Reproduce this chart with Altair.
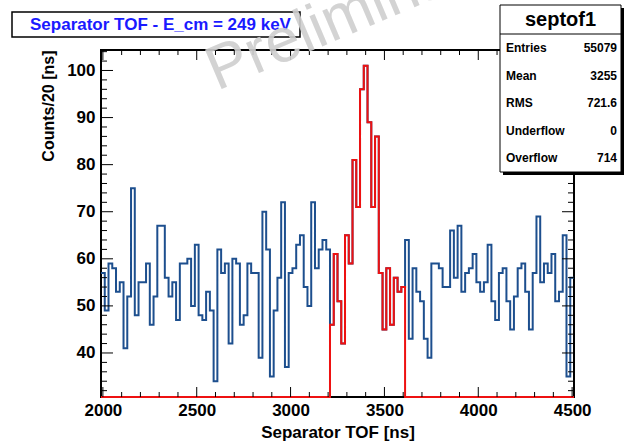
import altair as alt
import pandas as pd

# ---------------- data ----------------
BIN_START = 1990
BIN_WIDTH = 20
GATE_LO, GATE_HI = 3210, 3610

counts_before = [57, 49, 59, 58, 53, 55, 41, 52, 75, 48, 55, 55, 59, 46, 52, 67, 67, 56, 52, 55,
                 47, 59, 59, 60, 50, 63, 48, 47, 53, 49, 34, 62, 57, 59, 42, 60, 59, 46, 48, 59,
                 57, 57, 39, 70, 62, 35, 49, 56, 72, 37, 57, 58, 63, 65, 54, 50, 72, 58, 62, 64, 62]
counts_gate = [46, 61, 51, 42, 65, 59, 81, 71, 96, 101, 89, 71, 86, 57, 45, 58, 46, 56, 53, 54]
counts_after = [64, 43, 58, 53, 51, 43, 39, 59, 59, 58, 54, 54, 66, 56, 67, 53, 57, 58, 61, 55,
                53, 55, 63, 51, 47, 57, 58, 51, 45, 52, 58, 59, 53, 45, 57, 69, 55, 59, 57, 61,
                51, 53, 65, 35, 56]
counts = counts_before + counts_gate + counts_after

x_major = [2000, 2500, 3000, 3500, 4000, 4500]
x_minor = [v for v in range(2000, 4501, 100) if v not in x_major]
y_major = [40, 50, 60, 70, 80, 90, 100]
y_minor = [v for v in range(32, 105, 2) if v not in y_major]

stat_names = ["Entries", "Mean", "RMS", "Underflow", "Overflow"]
stat_values = ["55079", "3255", "721.6", "0", "714"]
stats_title = "septof1"
hist_title = "Separator TOF - E_cm = 249 keV"
watermark = "Preliminary"
x_title = "Separator TOF [ns]"
y_title = "Counts/20 [ns]"

# ---------------- layout ----------------
W, H = 473, 347
PAD_L, PAD_T = 101, 50
YMIN, YMAX = 30.65, 104.35
XMIN, XMAX = 1990, 4510
FONT = "Liberation Sans"
BLUE = "#1d4f8e"
RED = "#ee1111"

xs = alt.Scale(domain=[XMIN, XMAX], nice=False, zero=False)
ys = alt.Scale(domain=[YMIN, YMAX], nice=False, zero=False, clamp=True)

x_axis = alt.Axis(values=x_major, format="d", ticks=False, domain=False, grid=False,
                  labelFont=FONT, labelFontSize=17, labelFontWeight="bold", labelColor="black",
                  labelPadding=5, titleFont=FONT, titleFontSize=17, titleFontWeight="bold",
                  titleColor="black", titlePadding=6)
y_axis = alt.Axis(values=y_major, format="d", ticks=False, domain=False, grid=False,
                  labelFont=FONT, labelFontSize=17, labelFontWeight="bold", labelColor="black",
                  labelPadding=6, titleFont=FONT, titleFontSize=16, titleFontWeight="bold",
                  titleColor="black", titlePadding=10, titleAnchor="end")


def X():
    return alt.X("x:Q", scale=xs, axis=x_axis, title=x_title)


def Y():
    return alt.Y("y:Q", scale=ys, axis=y_axis, title=y_title)


edges = [BIN_START + BIN_WIDTH * i for i in range(len(counts) + 1)]
blue_df = pd.DataFrame({"x": edges, "y": counts + [counts[-1]]})
red_vals = [c if GATE_LO <= e < GATE_HI else 0 for e, c in zip(edges[:-1], counts)]
red_df = pd.DataFrame({"x": edges, "y": red_vals + [red_vals[-1]]})

blue = alt.Chart(blue_df).mark_line(interpolate="step-after", color=BLUE, strokeWidth=2).encode(x=X(), y=Y())
red = alt.Chart(red_df).mark_line(interpolate="step-after", color=RED, strokeWidth=2).encode(x=X(), y=Y())


def xtick_layer(vals, length, top):
    y0, y1 = (0, length) if top else (H, H - length)
    return alt.Chart(pd.DataFrame({"x": vals})).mark_rule(color="black", strokeWidth=1).encode(
        x=X(), y=alt.value(y0), y2=alt.value(y1))


def ytick_layer(vals, length, right):
    x0, x1 = (W, W - length) if right else (0, length)
    return alt.Chart(pd.DataFrame({"y": vals})).mark_rule(color="black", strokeWidth=1).encode(
        y=Y(), x=alt.value(x0), x2=alt.value(x1))


ticks = [
    xtick_layer(x_major, 10, False), xtick_layer(x_minor, 5, False),
    xtick_layer(x_major, 10, True), xtick_layer(x_minor, 5, True),
    ytick_layer(y_major, 12, False), ytick_layer(y_minor, 6, False),
    ytick_layer(y_major, 12, True), ytick_layer(y_minor, 6, True),
]

one = pd.DataFrame({"k": [0]})

# title box
tbox = alt.Chart(one).mark_rect(fill="white", stroke="black", strokeWidth=1.5).encode(
    x=alt.value(12 - PAD_L), x2=alt.value(300 - PAD_L), y=alt.value(12 - PAD_T), y2=alt.value(37 - PAD_T))
ttext = alt.Chart(pd.DataFrame({"t": [hist_title]})).mark_text(
    font=FONT, fontSize=17, fontWeight="bold", color="#1a1aff", align="left", baseline="middle").encode(
    x=alt.value(30 - PAD_L), y=alt.value(25 - PAD_T), text="t:N")

# watermark
wm = alt.Chart(pd.DataFrame({"t": [watermark]})).mark_text(
    font=FONT, fontSize=62, color="#cfcfcf", align="left", baseline="alphabetic", angle=337, opacity=0.9).encode(
    x=alt.value(217 - PAD_L), y=alt.value(91 - PAD_T), text="t:N")

# stats box
SB_L, SB_R, SB_T, SB_B = 500, 621, 5, 172
shadow = alt.Chart(one).mark_rect(fill="black").encode(
    x=alt.value(SB_L + 3 - PAD_L), x2=alt.value(SB_R + 3 - PAD_L),
    y=alt.value(SB_T + 3 - PAD_T), y2=alt.value(SB_B + 3 - PAD_T))
sbox = alt.Chart(one).mark_rect(fill="white", stroke="black", strokeWidth=1).encode(
    x=alt.value(SB_L - PAD_L), x2=alt.value(SB_R - PAD_L),
    y=alt.value(SB_T - PAD_T), y2=alt.value(SB_B - PAD_T))
sdiv = alt.Chart(one).mark_rule(color="black", strokeWidth=1).encode(
    x=alt.value(SB_L - PAD_L), x2=alt.value(SB_R - PAD_L), y=alt.value(34 - PAD_T))
stitle = alt.Chart(pd.DataFrame({"t": [stats_title]})).mark_text(
    font=FONT, fontSize=20, fontWeight="bold", color="black", align="center", baseline="middle").encode(
    x=alt.value((SB_L + SB_R) / 2 - PAD_L), y=alt.value(20 - PAD_T), text="t:N")

stat_layers = []
ROW0, ROWH = 48, 27.6
for i, (nm, vv) in enumerate(zip(stat_names, stat_values)):
    yy = ROW0 + i * ROWH - PAD_T
    stat_layers.append(alt.Chart(pd.DataFrame({"t": [nm]})).mark_text(
        font=FONT, fontSize=12, fontWeight="bold", color="black", align="left", baseline="middle").encode(
        x=alt.value(506 - PAD_L), y=alt.value(yy), text="t:N"))
    stat_layers.append(alt.Chart(pd.DataFrame({"t": [vv]})).mark_text(
        font=FONT, fontSize=12, fontWeight="bold", color="black", align="right", baseline="middle").encode(
        x=alt.value(617 - PAD_L), y=alt.value(yy), text="t:N"))

chart = alt.layer(
    blue, red, *ticks, tbox, ttext, wm, shadow, sbox, sdiv, stitle, *stat_layers
).properties(
    width=W, height=H,
    autosize=alt.AutoSizeParams(type="none"),
    padding={"left": PAD_L, "top": PAD_T, "right": 625 - PAD_L - W, "bottom": 444 - PAD_T - H},
    background="white",
).configure_view(stroke="black", strokeWidth=2)

chart.save("out.html", embed_options={"renderer": "svg", "actions": False})
